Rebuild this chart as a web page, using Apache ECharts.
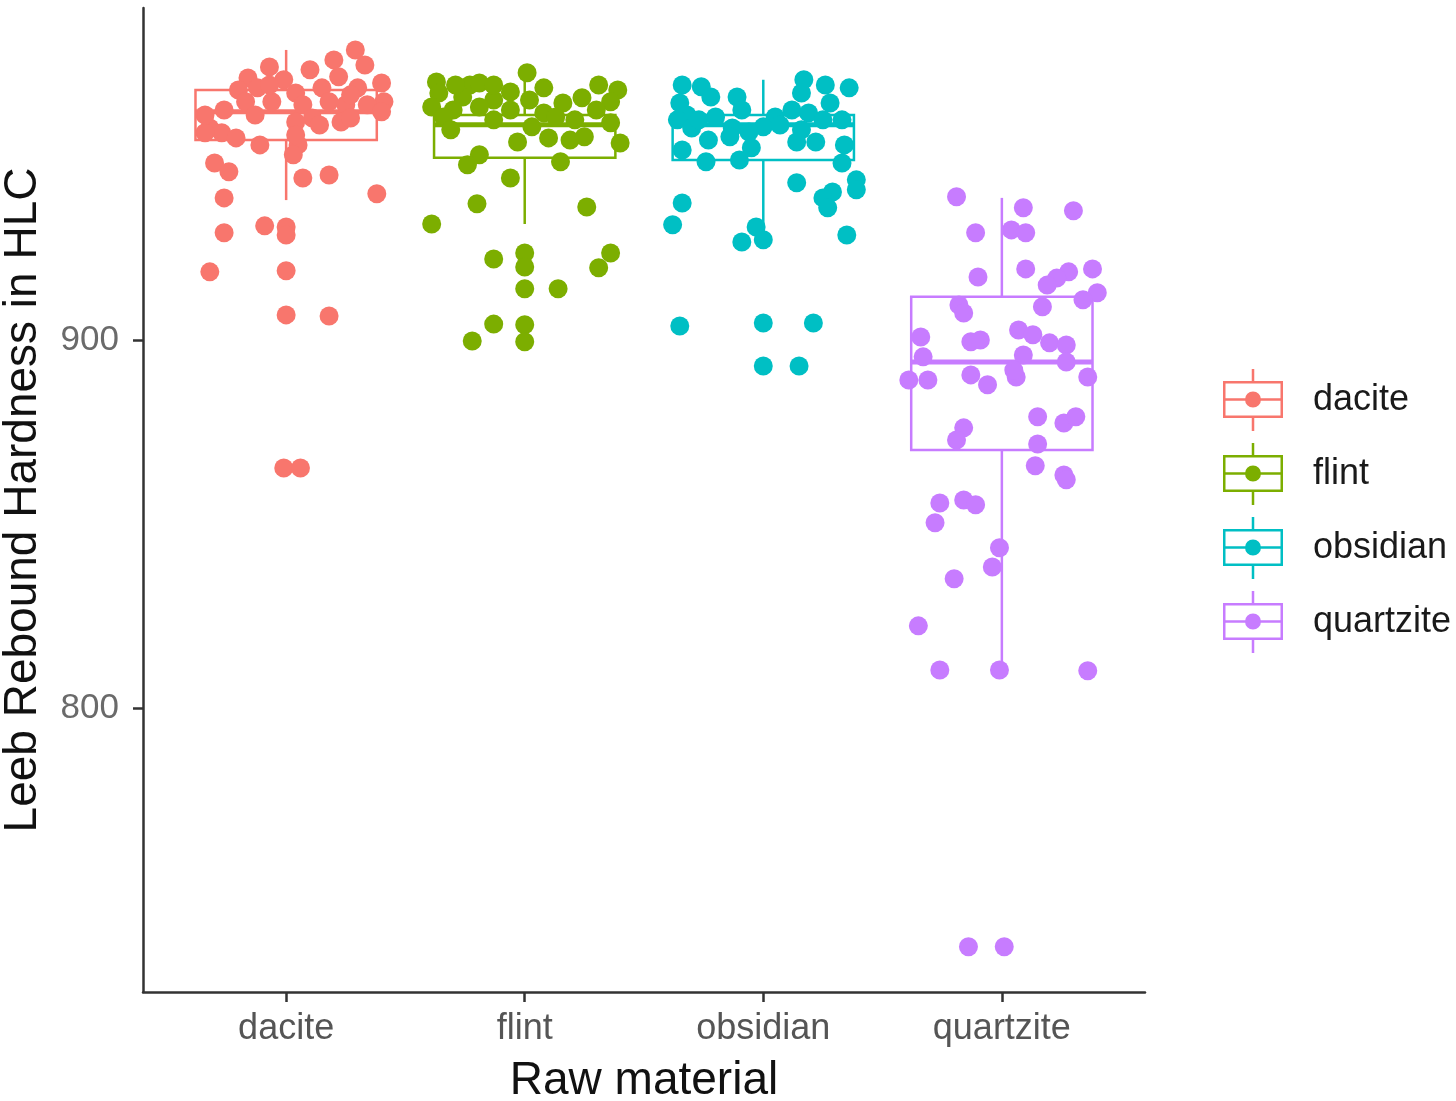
<!DOCTYPE html>
<html>
<head>
<meta charset="utf-8">
<script src="https://cdn.jsdelivr.net/npm/echarts@6/dist/echarts.min.js"></script>
<style>
  html, body { margin: 0; padding: 0; background: #fff; }
  #chart { width: 1456px; height: 1101px; }
</style>
</head>
<body>
<div id="chart"></div>
<script>
const categories = ['dacite', 'flint', 'obsidian', 'quartzite'];
const colors = ['#F8766D', '#7CAE00', '#00BFC4', '#C77CFF'];
const yTicks = [800, 900];

// box stats per material: [lower whisker, Q1, median, Q3, upper whisker]
const daciteBox = [938.0, 954.3, 962.0, 967.9, 978.8];
const flintBox = [931.5, 949.5, 958.5, 961.1, 972.6];
const obsidianBox = [930.7, 948.9, 958.5, 961.1, 970.7];
const quartziteBox = [810.3, 870.1, 894.0, 911.7, 938.6];

// jittered points: horizontal offset from the category centre, and hardness
const daciteJitter = [0.29, 0.33, 0.20, -0.07, 0.10, -0.16, 0.22, 0.40, -0.20, -0.12, 0.04, 0.15, 0.30, 0.41, 0.34, 0.25, 0.18, 0.07, -0.06, -0.17, -0.26, 0.40, 0.23, 0.11, 0.04, -0.32, -0.27, -0.21, -0.11, 0.05, 0.04, -0.30, -0.24, 0.07, 0.18, -0.26, 0.38, 0.03, -0.26, -0.09, 0.00, 0.00, -0.32, 0.00, 0.00, 0.18, -0.01, 0.06, -0.01, 0.27, -0.34, 0.14, -0.13, 0.27, -0.07, -0.34];
const daciteValues = [978.8, 974.7, 976.1, 974.2, 973.4, 971.2, 971.5, 969.8, 967.9, 968.5, 967.1, 968.5, 968.5, 964.7, 963.9, 963.9, 964.7, 963.9, 964.7, 964.7, 962.5, 962.0, 959.2, 960.3, 959.2, 957.6, 956.3, 954.9, 953.0, 953.0, 955.7, 948.1, 945.7, 944.0, 944.8, 938.6, 939.7, 950.3, 929.1, 931.0, 930.7, 928.5, 918.5, 918.8, 906.8, 906.5, 865.2, 865.2, 970.7, 966.6, 956.3, 958.4, 961.1, 960.3, 969.3, 961.1];

const flintJitter = [-0.37, 0.01, -0.23, -0.19, -0.06, 0.08, 0.39, -0.36, 0.24, 0.16, 0.02, -0.13, -0.26, -0.39, 0.36, -0.30, -0.19, -0.06, 0.08, 0.30, -0.34, 0.36, -0.31, 0.03, -0.13, -0.03, 0.10, 0.19, 0.25, 0.40, -0.19, -0.24, 0.15, -0.06, 0.13, -0.20, 0.26, -0.39, -0.13, 0.00, 0.00, 0.36, 0.31, 0.00, 0.14, -0.13, -0.22, 0.00, 0.00, -0.29, 0.31, 0.21, -0.13];
const flintValues = [970.1, 972.6, 969.3, 969.8, 967.4, 968.5, 967.9, 967.1, 965.8, 964.4, 965.2, 965.2, 966.0, 963.3, 964.7, 962.5, 963.3, 962.5, 961.7, 962.5, 960.6, 959.0, 957.1, 957.9, 959.8, 953.8, 954.9, 954.3, 955.2, 953.5, 950.3, 947.6, 948.4, 944.0, 960.6, 937.0, 936.1, 931.5, 922.0, 923.6, 919.8, 923.6, 919.6, 913.9, 913.9, 904.3, 899.7, 904.1, 899.5, 969.3, 969.3, 959.8, 969.3];

const obsidianJitter = [-0.34, -0.26, 0.17, 0.26, 0.36, -0.22, -0.11, 0.28, -0.35, 0.16, -0.32, -0.09, 0.12, 0.19, -0.36, -0.20, 0.05, 0.25, 0.33, -0.30, -0.13, 0.00, 0.16, -0.06, -0.23, -0.14, 0.22, -0.34, -0.05, 0.14, -0.24, -0.10, 0.33, 0.14, 0.39, 0.29, 0.25, -0.34, 0.27, -0.38, -0.03, 0.00, -0.09, 0.35, -0.35, 0.00, 0.21, 0.00, 0.15, 0.39, -0.27, 0.07, 0.34];
const obsidianValues = [969.3, 968.8, 970.7, 969.3, 968.5, 966.0, 966.0, 964.4, 964.4, 967.1, 961.1, 962.5, 962.5, 961.7, 959.8, 960.6, 960.6, 959.8, 959.8, 957.6, 957.6, 957.9, 957.1, 956.5, 954.3, 955.2, 953.8, 951.6, 952.2, 953.8, 948.4, 948.9, 948.1, 942.7, 943.5, 940.2, 938.6, 937.2, 935.9, 931.3, 930.7, 927.2, 926.6, 928.5, 903.8, 904.6, 904.6, 892.9, 892.9, 940.8, 959.8, 958.4, 953.0];

const quartziteJitter = [-0.19, 0.09, 0.30, -0.11, 0.04, 0.10, 0.10, -0.10, 0.28, 0.38, 0.23, 0.19, 0.40, 0.34, 0.17, -0.18, -0.16, 0.07, 0.13, -0.34, -0.13, -0.09, 0.20, 0.27, -0.33, 0.09, 0.27, -0.39, -0.31, -0.13, -0.06, 0.06, 0.36, 0.05, 0.15, 0.26, 0.31, -0.16, -0.19, 0.15, 0.14, 0.26, 0.27, -0.26, -0.16, -0.11, -0.28, -0.01, -0.04, -0.20, -0.35, -0.26, -0.01, 0.36, -0.14, 0.01];
const quartziteValues = [938.9, 935.9, 935.1, 929.1, 929.9, 929.1, 919.3, 917.1, 918.5, 919.3, 916.8, 914.9, 912.8, 910.9, 909.0, 909.5, 907.3, 902.7, 901.4, 900.8, 899.5, 900.0, 899.2, 898.6, 895.4, 895.9, 894.0, 889.1, 889.1, 890.5, 887.8, 889.9, 889.9, 891.8, 879.1, 877.4, 879.1, 876.1, 872.8, 871.7, 865.8, 863.3, 862.0, 855.7, 856.5, 855.2, 850.3, 843.5, 838.3, 835.1, 822.3, 810.3, 810.3, 810.1, 735.1, 735.1];

const boxes = [daciteBox, flintBox, obsidianBox, quartziteBox];
const jitters = [daciteJitter, flintJitter, obsidianJitter, quartziteJitter];
const values = [daciteValues, flintValues, obsidianValues, quartziteValues];

const boxWidth = 0.76;
const font = '"Liberation Sans", Arial, Helvetica, sans-serif';

// legend key: whiskers, box outline, median and a dot, as filled pieces
const keyIcon = 'path://M28.75 0h2.5v12h-2.5Z M0 12h60v2.5h-60Z M0 46.5h60v2.5h-60Z M0 12h2.5v37h-2.5Z M57.5 12h2.5v37h-2.5Z M0 29.25h60v2.5h-60Z M28.75 49h2.5v13h-2.5Z M22 30.5A8 8 0 1 1 38 30.5A8 8 0 1 1 22 30.5Z';

function renderBox(params, api) {
  const x = api.value(0);
  const half = api.size([boxWidth, 0])[0] / 2;
  const lo = api.coord([x, api.value(1)]);
  const q1 = api.coord([x, api.value(2)]);
  const md = api.coord([x, api.value(3)]);
  const q3 = api.coord([x, api.value(4)]);
  const hi = api.coord([x, api.value(5)]);
  const color = colors[params.dataIndex];
  const stroke = { stroke: color, lineWidth: 2.5, fill: null };
  return {
    type: 'group',
    children: [
      { type: 'line', shape: { x1: hi[0], y1: hi[1], x2: q3[0], y2: q3[1] }, style: stroke },
      { type: 'line', shape: { x1: q1[0], y1: q1[1], x2: lo[0], y2: lo[1] }, style: stroke },
      { type: 'rect', shape: { x: q3[0] - half, y: q3[1], width: half * 2, height: q1[1] - q3[1] }, style: stroke },
      { type: 'line', shape: { x1: md[0] - half, y1: md[1], x2: md[0] + half, y2: md[1] }, style: { stroke: color, lineWidth: 5 } }
    ]
  };
}

const chart = echarts.init(document.getElementById('chart'), null, { renderer: 'canvas' });

const axisLine = { lineStyle: { color: '#333', width: 2.5 } };

const option = {
  backgroundColor: '#fff',
  animation: false,
  grid: { left: 143, top: 8, width: 1002, height: 984, containLabel: false, outerBoundsMode: 'none' },
  legend: {
    orient: 'vertical',
    left: 1223,
    top: 369,
    padding: 0,
    itemGap: 12,
    itemWidth: 60,
    itemHeight: 62,
    icon: keyIcon,
    selectedMode: false,
    data: categories,
    textStyle: { fontSize: 36, color: '#1a1a1a', fontFamily: font, padding: [0, 0, 0, 25] }
  },
  xAxis: {
    type: 'value',
    min: 0.4,
    max: 4.6,
    name: 'Raw material',
    nameLocation: 'middle',
    nameGap: 66,
    nameTextStyle: { fontSize: 46, color: '#111', fontFamily: font },
    axisLine: axisLine,
    axisTick: { show: true, length: 10, lineStyle: { color: '#333', width: 2.5 }, customValues: [1, 2, 3, 4] },
    axisLabel: {
      customValues: [1, 2, 3, 4],
      margin: 19,
      fontSize: 36,
      color: '#555',
      fontFamily: font,
      formatter: (v) => categories[Math.round(v) - 1]
    },
    splitLine: { show: false }
  },
  yAxis: {
    type: 'value',
    min: 722.8,
    max: 990.2,
    name: 'Leeb Rebound Hardness in HLC',
    nameLocation: 'middle',
    nameGap: 97,
    nameTextStyle: { fontSize: 46, color: '#111', fontFamily: font },
    axisLine: axisLine,
    axisTick: { show: true, length: 10, lineStyle: { color: '#333', width: 2.5 }, customValues: yTicks },
    axisLabel: { customValues: yTicks, margin: 24, fontSize: 35, color: '#6a6a6a', fontFamily: font },
    splitLine: { show: false }
  },
  series: [
    {
      name: 'boxes',
      type: 'custom',
      renderItem: renderBox,
      silent: true,
      z: 1,
      encode: { x: 0, y: [1, 2, 3, 4, 5] },
      data: boxes.map((b, i) => [i + 1].concat(b))
    }
  ].concat(categories.map((name, i) => ({
    name: name,
    type: 'scatter',
    symbol: 'circle',
    symbolSize: 19,
    z: 2,
    itemStyle: { color: colors[i], opacity: 1 },
    data: jitters[i].map((j, k) => [i + 1 + j, values[i][k]])
  })))
};

chart.setOption(option);
</script>
</body>
</html>
